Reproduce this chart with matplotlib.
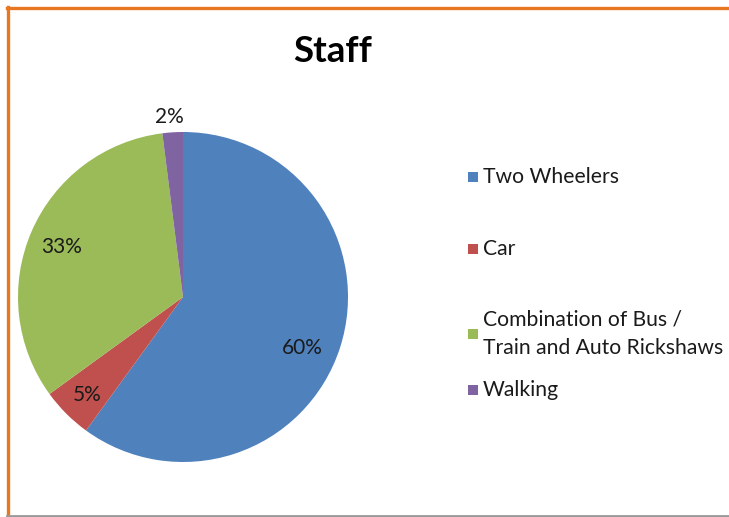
import matplotlib
matplotlib.use("Agg")
import matplotlib.pyplot as plt
from matplotlib.patches import Rectangle
from matplotlib.lines import Line2D

title = "Staff"
categories = ["Two Wheelers", "Car", "Combination of Bus /\nTrain and Auto Rickshaws", "Walking"]
values = [60, 5, 33, 2]
colors = ["#4F81BD", "#C0504D", "#9BBB59", "#8064A2"]

plt.rcParams['font.family'] = ['Lato', 'DejaVu Sans']

W, H = 729, 517
fig = plt.figure(figsize=(W / 100, H / 100), dpi=100)
fig.patch.set_facecolor("white")

# pie axes: center (183,297), radius ~165 px
R = 165
cx, cy = 183, 297
ax = fig.add_axes([(cx - R) / W, 1 - (cy + R) / H, 2 * R / W, 2 * R / H])
wedges, _, autotexts = ax.pie(values, colors=colors, startangle=90, counterclock=False,
                              autopct=lambda p: f"{p:.0f}%", pctdistance=0.75,
                              wedgeprops=dict(linewidth=0),
                              textprops=dict(fontsize=15, color="#1a1a1a"))
ax.set_xlim(-1, 1)
ax.set_ylim(-1, 1)
ax.set_aspect("auto")

label_pos = [(0.725, -0.31), (-0.58, -0.595), (-0.735, 0.30), (-0.08, 1.09)]
for t, (x, y) in zip(autotexts, label_pos):
    t.set_position((x, y))
    t.set_ha("center")
    t.set_va("center")

fig.text(333 / W, 1 - 52 / H, title, ha="center", va="center", fontsize=26.5,
         fontweight="bold", color="black")

# legend
leg_y = [177, 249, 334, 390]
for lab, col, yy in zip(categories, colors, leg_y):
    fig.patches.append(Rectangle((468 / W, 1 - (yy + 5) / H), 10 / W, 10 / H,
                                 transform=fig.transFigure, facecolor=col, edgecolor="none"))
    fig.text(483 / W, 1 - yy / H, lab, ha="left", va="center", fontsize=15.2,
             color="#1a1a1a", linespacing=1.52)

# frame lines
fig.add_artist(Line2D([7 / W, 1], [1 - 7.5 / H, 1 - 7.5 / H], color="#E87722", lw=2.4,
                      transform=fig.transFigure))
fig.add_artist(Line2D([7.5 / W, 7.5 / W], [0, 1 - 7 / H], color="#E87722", lw=2.4,
                      transform=fig.transFigure))
fig.add_artist(Line2D([7 / W, 1], [1 - 515.5 / H, 1 - 515.5 / H], color="#999999", lw=2,
                      transform=fig.transFigure))

fig.savefig("out.png", dpi=100)
